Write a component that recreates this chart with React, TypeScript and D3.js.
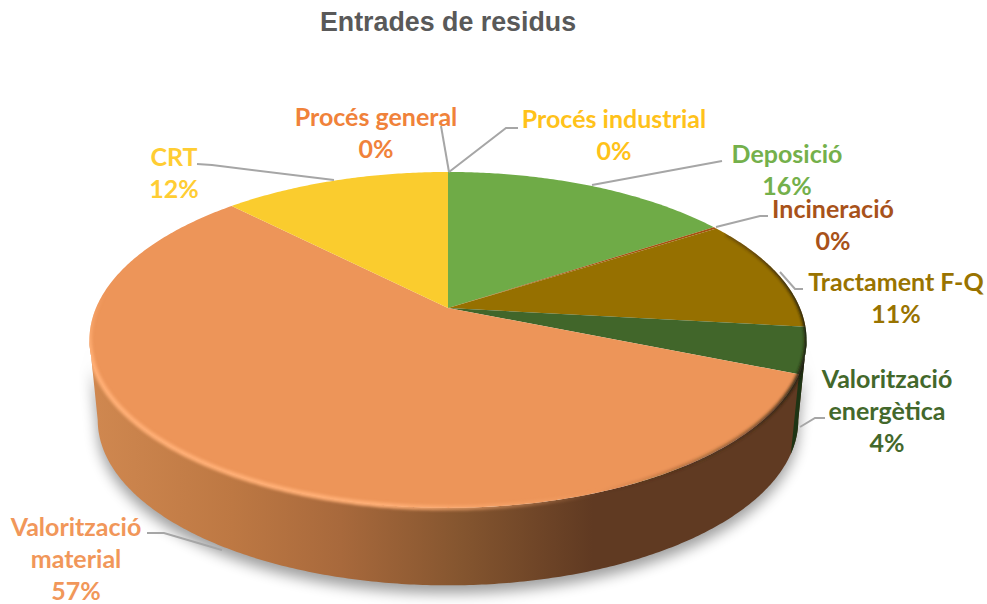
import React from 'react';
import * as d3 from 'd3';

const categories = ['Procés general', 'Procés industrial', 'Deposició', 'Incineració', 'Tractament F-Q', 'Valorització energètica', 'Valorització material', 'CRT'];
const shares = [0, 0, 15.7, 0.2, 10.9, 4.4, 56.5, 12.3];
const shownPct = ['0%', '0%', '16%', '0%', '11%', '4%', '57%', '12%'];
const sliceColors = ['#ed7d31', '#ffc000', '#6fab47', '#a5500f', '#967000', '#41662a', '#ed9559', '#facc2e'];
const labelColors = ['#f0823a', '#ffc21a', '#74b04b', '#a8521a', '#997300', '#43682b', '#f1975a', '#ffcd33'];

// label block: x, first baseline, lines of the name, leader polyline
const labelLayout: { x: number; y: number; lines: string[]; leader: [number, number][] }[] = [
  { x: 376, y: 126, lines: ['Procés general'], leader: [[449, 172], [441, 126]] },
  { x: 614, y: 128, lines: ['Procés industrial'], leader: [[449, 172], [506, 128], [518, 128]] },
  { x: 787, y: 163, lines: ['Deposició'], leader: [[592, 185], [722, 161]] },
  { x: 833, y: 218, lines: ['Incineració'], leader: [[716, 227], [760, 216], [768, 216]] },
  { x: 896, y: 291, lines: ['Tractament F-Q'], leader: [[780, 272], [795, 289], [803, 289]] },
  { x: 887, y: 388, lines: ['Valorització', 'energètica'], leader: [[800, 427], [815, 418], [825, 418]] },
  { x: 76, y: 536, lines: ['Valorització', 'material'], leader: [[222, 550], [164, 533], [147, 533]] },
  { x: 174, y: 166, lines: ['CRT'], leader: [[334, 180], [212, 165], [197, 164]] },
];

const W = 987;
const H = 604;
const cx = 448;
const apexY = 308;
const radiusX = 352;
const radiusY = 161.9;
const persp = -0.19;
const rimMidY = 340;
const wallDrop = 80;
const deg = Math.PI / 180;
const rightEdge = 101 * deg;
const leftEdge = 259 * deg;

// circle angle -> screen, with the perspective tilt of the disc
function topPoint(a: number): [number, number] {
  const X = Math.sin(a);
  const Y = -Math.cos(a);
  const d = 1 + persp * Y;
  return [cx + (radiusX * X) / d, apexY + (radiusY * Y) / d];
}

function bottomPoint(a: number): [number, number] {
  const p = topPoint(a);
  return [cx + (p[0] - cx) * 0.977, rimMidY + wallDrop + (p[1] - rimMidY) * 0.985];
}

const line = d3.line();

function arcSamples(a0: number, a1: number) {
  const n = Math.max(2, Math.ceil(Math.abs(a1 - a0) / 0.01));
  return d3.range(n + 1).map((i) => a0 + ((a1 - a0) * i) / n);
}

function slicePath(a0: number, a1: number) {
  return line([[cx, apexY], ...arcSamples(a0, a1).map(topPoint)]) + 'Z';
}

function wallPath(a0: number, a1: number) {
  const s = arcSamples(a0, a1);
  return line([...s.map(topPoint), ...s.slice().reverse().map(bottomPoint)]) + 'Z';
}

const pieArcs = d3.pie<number>().sort(null).startAngle(0).endAngle(2 * Math.PI)(shares);
const TAU = 2 * Math.PI;
const discPath = line(arcSamples(0, TAU).map(topPoint)) + 'Z';
const wallSilhouette = wallPath(rightEdge, leftEdge);
const lightRim = line(arcSamples(150 * deg, 280 * deg).map(topPoint)) || '';
const darkRim = line(arcSamples(60 * deg, 170 * deg).map(topPoint)) || '';

export default function App() {
  const fontLabel = 'Lato, "Noto Sans", sans-serif';
  return (
    <svg width={W} height={H} style={{ position: 'absolute', left: 0, top: 0, background: '#fff' }}>
      <defs>
        <linearGradient id="wallOrange" gradientUnits="userSpaceOnUse" x1={89} x2={808} y1={0} y2={0}>
          <stop offset="0" stopColor="#d08850" />
          <stop offset="0.2" stopColor="#bd7843" />
          <stop offset="0.35" stopColor="#a8693c" />
          <stop offset="0.52" stopColor="#84552f" />
          <stop offset="0.7" stopColor="#603a22" />
          <stop offset="1" stopColor="#603a22" />
        </linearGradient>
        <linearGradient id="lightY" gradientUnits="userSpaceOnUse" x1={0} x2={0} y1={290} y2={350}>
          <stop offset="0" stopColor="#ffae74" stopOpacity={0} />
          <stop offset="1" stopColor="#ffae74" stopOpacity={1} />
        </linearGradient>
        <linearGradient id="fadeX" gradientUnits="userSpaceOnUse" x1={380} x2={600} y1={0} y2={0}>
          <stop offset="0" stopColor="#fff" />
          <stop offset="1" stopColor="#000" />
        </linearGradient>
        <mask id="lightMask" maskUnits="userSpaceOnUse" x={0} y={0} width={W} height={H}>
          <rect width={W} height={H} fill="url(#fadeX)" />
        </mask>
        <linearGradient id="darkX" gradientUnits="userSpaceOnUse" x1={600} x2={808} y1={0} y2={0}>
          <stop offset="0" stopColor="#3a2412" stopOpacity={0} />
          <stop offset="0.7" stopColor="#3a2412" stopOpacity={0.55} />
          <stop offset="1" stopColor="#1c1a0c" stopOpacity={1} />
        </linearGradient>
        <filter id="soft" x="-10%" y="-10%" width="120%" height="130%">
          <feGaussianBlur stdDeviation="7" />
        </filter>
        <filter id="softRim" x="-5%" y="-5%" width="110%" height="110%">
          <feGaussianBlur stdDeviation="1.8" />
        </filter>
        <clipPath id="hullClip">
          <path d={discPath} />
          <path d={wallSilhouette} />
        </clipPath>
      </defs>

      <text x={448} y={31} textAnchor="middle" fontFamily='"Liberation Sans", Arial, sans-serif' fontWeight={700} fontSize={26.8} fill="#595959">
        Entrades de residus
      </text>

      {/* drop shadow under the wall */}
      <path d={wallSilhouette} fill="#000" opacity={0.38} transform="translate(0,8)" filter="url(#soft)" />

      {/* side wall */}
      <path d={wallSilhouette} fill="url(#wallOrange)" />
      {pieArcs.map((d, i) => {
        const a0 = Math.max(d.startAngle, rightEdge);
        const a1 = Math.min(d.endAngle, leftEdge);
        if (a1 <= a0 || categories[i] !== 'Valorització energètica') return null;
        return <path key={i} d={wallPath(a0, a1)} fill="#1e3414" />;
      })}

      {/* top face */}
      {pieArcs.map((d, i) =>
        d.value > 0 ? <path key={i} d={slicePath(d.startAngle, d.endAngle)} fill={sliceColors[i]} /> : null
      )}

      {/* bevel along the rim: light on the left front, dark on the right */}
      <g clipPath="url(#hullClip)">
        <g mask="url(#lightMask)">
          <path d={lightRim} fill="none" stroke="url(#lightY)" strokeWidth={5} filter="url(#softRim)" />
        </g>
        <path d={darkRim} fill="none" stroke="url(#darkX)" strokeWidth={4} filter="url(#softRim)" />
      </g>

      {/* leaders */}
      {labelLayout.map((l, i) => (
        <path key={i} d={line(l.leader) || ''} fill="none" stroke="#a6a6a6" strokeWidth={2} />
      ))}

      {/* labels */}
      {labelLayout.map((l, i) => (
        <text key={i} textAnchor="middle" fontFamily={fontLabel} fontWeight={700} fontSize={25} fill={labelColors[i]}>
          {l.lines.map((t, j) => (
            <tspan key={j} x={l.x} y={l.y + j * 32}>{t}</tspan>
          ))}
          <tspan x={l.x} y={l.y + l.lines.length * 32}>{shownPct[i]}</tspan>
        </text>
      ))}
    </svg>
  );
}
